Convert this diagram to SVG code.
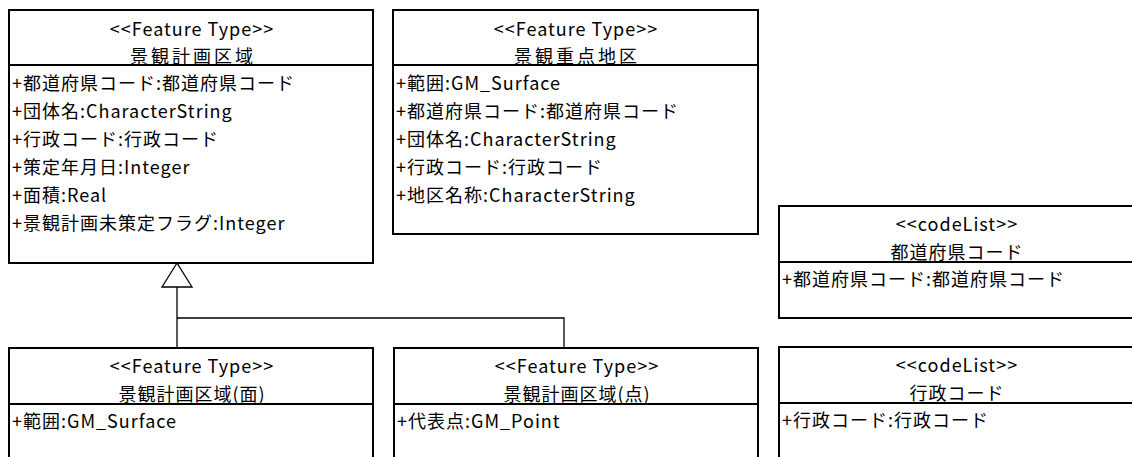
<svg xmlns="http://www.w3.org/2000/svg" width="1132" height="457" viewBox="0 0 1132 457">
<style>
.box{fill:#fff;stroke:#000;stroke-width:2}
.div{stroke:#000;stroke-width:2}
.t{font-family:"Noto Sans CJK JP","Noto Sans",sans-serif;font-size:18px;letter-spacing:1px;fill:#000;dominant-baseline:central}
.c{text-anchor:middle}
.n{letter-spacing:3px}
.con{fill:none;stroke:#000;stroke-width:1.3}
.tri{fill:#fff;stroke:#000;stroke-width:1.3}
</style>
<rect width="1132" height="457" fill="#fff"/>
<g id="connectors">
<polyline class="con" points="177,287 177,348"/>
<polyline class="con" points="177,318 564,318 564,348"/>
<polygon class="tri" points="177,263 162,287 192,287"/>
</g>
<g id="keikan-keikaku-kuiki">
<rect class="box" x="9" y="10" width="364" height="253"/>
<line class="div" x1="9" y1="65" x2="373" y2="65"/>
<text class="t c" x="192" y="28">&lt;&lt;Feature Type&gt;&gt;</text>
<text class="t c n" x="193" y="55">景観計画区域</text>
<text class="t" x="12" y="82">+都道府県コード:都道府県コード</text>
<text class="t" x="12" y="110">+団体名:CharacterString</text>
<text class="t" x="12" y="138">+行政コード:行政コード</text>
<text class="t" x="12" y="166">+策定年月日:Integer</text>
<text class="t" x="12" y="194">+面積:Real</text>
<text class="t" x="12" y="222">+景観計画未策定フラグ:Integer</text>
</g>
<g id="keikan-juten-chiku">
<rect class="box" x="393" y="10" width="365" height="224"/>
<line class="div" x1="393" y1="65" x2="758" y2="65"/>
<text class="t c" x="576" y="28">&lt;&lt;Feature Type&gt;&gt;</text>
<text class="t c n" x="577" y="55">景観重点地区</text>
<text class="t" x="396" y="82">+範囲:GM_Surface</text>
<text class="t" x="396" y="110">+都道府県コード:都道府県コード</text>
<text class="t" x="396" y="138">+団体名:CharacterString</text>
<text class="t" x="396" y="166">+行政コード:行政コード</text>
<text class="t" x="396" y="194">+地区名称:CharacterString</text>
</g>
<g id="todofuken-code">
<rect class="box" x="779" y="206" width="355" height="112"/>
<line class="div" x1="779" y1="262" x2="1134" y2="262"/>
<text class="t c" x="957" y="223">&lt;&lt;codeList&gt;&gt;</text>
<text class="t c" x="957" y="251">都道府県コード</text>
<text class="t" x="782" y="278">+都道府県コード:都道府県コード</text>
</g>
<g id="keikan-keikaku-kuiki-men">
<rect class="box" x="9" y="348" width="364" height="112"/>
<line class="div" x1="9" y1="404" x2="373" y2="404"/>
<text class="t c" x="192" y="365">&lt;&lt;Feature Type&gt;&gt;</text>
<text class="t c" x="192" y="393">景観計画区域(面)</text>
<text class="t" x="12" y="420">+範囲:GM_Surface</text>
</g>
<g id="keikan-keikaku-kuiki-ten">
<rect class="box" x="394" y="348" width="364" height="112"/>
<line class="div" x1="394" y1="404" x2="758" y2="404"/>
<text class="t c" x="577" y="365">&lt;&lt;Feature Type&gt;&gt;</text>
<text class="t c" x="577" y="393">景観計画区域(点)</text>
<text class="t" x="397" y="420">+代表点:GM_Point</text>
</g>
<g id="gyosei-code">
<rect class="box" x="779" y="347" width="355" height="112"/>
<line class="div" x1="779" y1="403" x2="1134" y2="403"/>
<text class="t c" x="957" y="364">&lt;&lt;codeList&gt;&gt;</text>
<text class="t c" x="957" y="392">行政コード</text>
<text class="t" x="782" y="419">+行政コード:行政コード</text>
</g>
</svg>
